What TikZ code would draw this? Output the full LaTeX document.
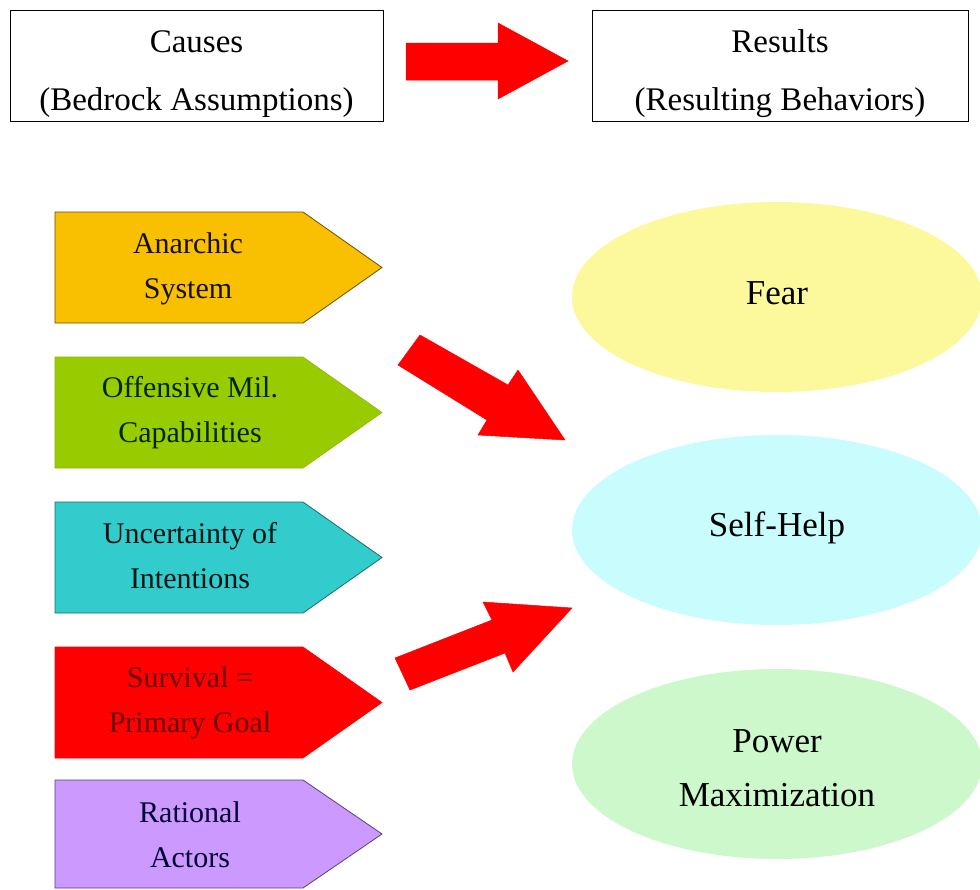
\documentclass[tikz,border=0pt]{standalone}
\usepackage{fontspec}
\setmainfont{Liberation Serif}
\usetikzlibrary{shapes.geometric}
\definecolor{cgold}{HTML}{F8C000}
\definecolor{cgoldb}{HTML}{6B5000}
\definecolor{cgreen}{HTML}{99CC00}
\definecolor{cgreenb}{HTML}{8DB800}
\definecolor{cteal}{HTML}{33CCCC}
\definecolor{ctealb}{HTML}{1F6B6B}
\definecolor{cred}{HTML}{FF0000}
\definecolor{credt}{HTML}{6B0000}
\definecolor{clav}{HTML}{CC99FF}
\definecolor{clavb}{HTML}{5A3F7A}
\definecolor{cyel}{HTML}{FCF99C}
\definecolor{ccyan}{HTML}{C9FCFC}
\definecolor{clgreen}{HTML}{CCF8CC}
\tikzset{
  headbox/.style={draw=black, line width=0.8pt, fill=white, minimum height=111pt, inner sep=0pt},
  headtxt/.style={align=center, font=\fontsize{33}{58}\selectfont, inner sep=0pt},
  pentxt/.style={align=center, font=\fontsize{30}{45}\selectfont, inner sep=0pt},
  blob/.style={ellipse, minimum width=410pt, minimum height=190pt, inner sep=0pt},
  blobtxt/.style={align=center, inner sep=0pt, font=\fontsize{35}{54}\selectfont},
  blockarrow/.style={fill=cred, draw=cred, line width=0.5pt, line join=miter}
}
\begin{document}
\begin{tikzpicture}[x=1pt,y=-1pt]
\useasboundingbox (0,0) rectangle (980,889);
\fill[white] (0,0) rectangle (980,889);

% header boxes
\node[headbox, minimum width=373pt] (causes) at (196.5,65.5) {};
\node[headtxt] (causestxt) at (196.5,74) {Causes\\(Bedrock Assumptions)};
\node[headbox, minimum width=376pt] (results) at (780,65.5) {};
\node[headtxt] (resultstxt) at (780,74) {Results\\(Resulting Behaviors)};

% top block arrow
\draw[blockarrow] (406,43) -- (498,43) -- (498,23) -- (568,61) -- (498,99) -- (498,80) -- (406,80) -- cycle;

% pentagons
\draw[fill=cgold, draw=cgoldb, line width=0.8pt] (55,212) -- (303,212) -- (382,267.5) -- (303,323) -- (55,323) -- cycle;
\node[pentxt, text=black!80!cgoldb] (anarchic) at (188,269) {Anarchic\\System};

\draw[fill=cgreen, draw=cgreenb, line width=0.6pt] (55,357) -- (303,357) -- (382,412.5) -- (303,468) -- (55,468) -- cycle;
\node[pentxt, text=black!85!green] (offensive) at (190,413) {Offensive Mil.\\Capabilities};

\draw[fill=cteal, draw=ctealb, line width=0.8pt] (55,502) -- (303,502) -- (382,557.5) -- (303,613) -- (55,613) -- cycle;
\node[pentxt, text=black!85!teal] (uncert) at (190,556) {Uncertainty of\\Intentions};

\draw[fill=cred, draw=cred, line width=0.6pt] (55,647) -- (303,647) -- (382,702.5) -- (303,758) -- (55,758) -- cycle;
\node[pentxt, text=credt] (survival) at (190,703) {Survival =\\Primary Goal};

\draw[fill=clav, draw=clavb, line width=0.8pt] (55,780) -- (303,780) -- (382,834) -- (303,888) -- (55,888) -- cycle;
\node[pentxt, text=black!80!blue] (rational) at (190,835) {Rational\\Actors};

% ellipses
\node[blob, fill=cyel] (fear) at (777,297) {};
\node[blobtxt] (feartxt) at (777,293) {Fear};
\node[blob, fill=ccyan] (selfhelp) at (777,530) {};
\node[blobtxt] (selfhelptxt) at (777,528) {Self-Help};
\node[blob, fill=clgreen] (power) at (777,764) {};
\node[blobtxt] (powertxt) at (777,768) {Power\\Maximization};

% diagonal block arrows
\draw[blockarrow] (398,365) -- (420,335) -- (508,385) -- (518,370) -- (565,440) -- (478,435) -- (487,420) -- cycle;
\draw[blockarrow] (395,658) -- (492,620) -- (483,602) -- (572,608) -- (513,672) -- (505,653) -- (410,690) -- cycle;
\end{tikzpicture}
\end{document}
